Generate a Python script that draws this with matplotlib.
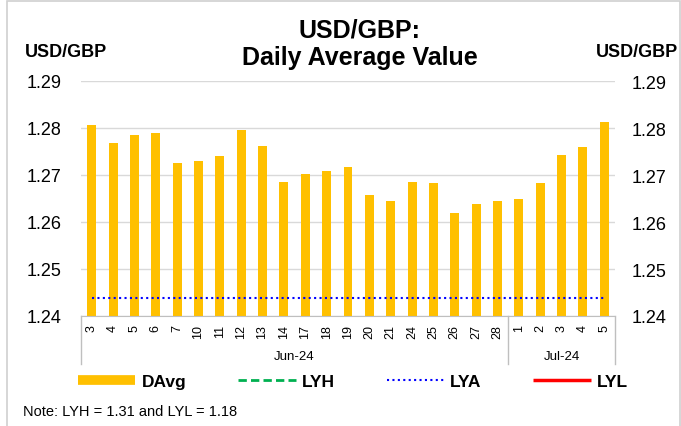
import numpy as np
import matplotlib
matplotlib.use("Agg")
import matplotlib.pyplot as plt
from matplotlib.lines import Line2D
from matplotlib.patches import Rectangle
import matplotlib.transforms as mtransforms

plt.rcParams['font.family'] = ['Liberation Sans', 'DejaVu Sans']

# datos
dias = ["3", "4", "5", "6", "7", "10", "11", "12", "13", "14", "17", "18", "19", "20",
        "21", "24", "25", "26", "27", "28", "1", "2", "3", "4", "5"]
meses = ["Jun-24", "Jul-24"]
n_por_mes = [20, 5]
davg = [1.2806, 1.2768, 1.2786, 1.2790, 1.2725, 1.2730, 1.2740, 1.2796, 1.2762, 1.2685,
        1.2703, 1.2708, 1.2717, 1.2657, 1.2644, 1.2685, 1.2684, 1.2620, 1.2639, 1.2645,
        1.2649, 1.2684, 1.2743, 1.2759, 1.2813]
lyh = 1.31
lya = 1.2438
lyl = 1.18
yticks = [1.24, 1.25, 1.26, 1.27, 1.28, 1.29]

naranja = "#FFC000"
azul = "#0000FF"
verde = "#00B050"
rojo = "#FF0000"

fig = plt.figure(figsize=(6.81, 4.27), dpi=100)
ax = fig.add_axes([81/681, 1 - 317/427, 534/681, 235/427])
x = np.arange(len(dias))

ax.bar(x, davg, width=0.42, color=naranja, zorder=2)
ax.plot(x, [lyh]*len(x), color=verde, ls=(0, (3, 1.5)), lw=2, zorder=3)
ax.plot(x, [lya]*len(x), color=azul, ls=(0, (1, 1.6)), lw=1.5, zorder=3)
ax.plot(x, [lyl]*len(x), color=rojo, lw=2.5, zorder=3)

ax.set_xlim(-0.5, len(dias) - 0.5)
ax.set_ylim(yticks[0], yticks[-1])
ax.set_yticks(yticks)
ax.set_yticklabels([f"{v:.2f}" for v in yticks], fontsize=13)
ax.tick_params(axis='y', length=0, pad=14)
ax.grid(axis='y', color='#d9d9d9', lw=1, zorder=0)
ax.set_axisbelow(True)
for s in ['left', 'right', 'top']:
    ax.spines[s].set_visible(False)
ax.spines['bottom'].set_color('#bfbfbf')

ax.set_xticks(x)
ax.set_xticklabels(dias, rotation=90, fontsize=9, va='top', ha='center')
ax.tick_params(axis='x', length=0, pad=6)

# eje multinivel
trans = mtransforms.blended_transform_factory(ax.transData, ax.transAxes)
bordes = [-0.5]
inicio = -0.5
for mes, n in zip(meses, n_por_mes):
    fin = inicio + n
    ax.text((inicio + fin) / 2, -0.17, mes, transform=trans, ha='center', va='center',
            fontsize=9.5)
    bordes.append(fin)
    inicio = fin
for b in bordes:
    ax.plot([b, b], [0, -0.205], transform=trans, color='#bfbfbf', lw=1, clip_on=False)

ax2 = ax.twinx()
ax2.set_ylim(yticks[0], yticks[-1])
ax2.set_yticks(yticks)
ax2.set_yticklabels([f"{v:.2f}" for v in yticks], fontsize=13)
ax2.tick_params(axis='y', length=0, pad=12)
for s in ax2.spines.values():
    s.set_visible(False)

# titulos
fig.text(360/681, 1 - 65/427, "USD/GBP:\nDaily Average Value", ha='center', va='baseline',
         fontsize=18, fontweight='bold', linespacing=1.2)
fig.text(25/681, 1 - 57/427, "USD/GBP", fontsize=13, fontweight='bold', va='baseline')
fig.text(678/681, 1 - 57/427, "USD/GBP", fontsize=13, fontweight='bold', va='baseline',
         ha='right')

handles = [Line2D([], [], color=naranja, lw=7, solid_capstyle='butt'),
           Line2D([], [], color=verde, ls=(0, (3, 1.5)), lw=2),
           Line2D([], [], color=azul, ls=(0, (1, 1.6)), lw=1.5),
           Line2D([], [], color=rojo, lw=2.5, solid_capstyle='butt')]
fig.legend(handles, ["DAvg", "LYH", "LYA", "LYL"], loc='center', ncol=4,
           bbox_to_anchor=(353/681, 1 - 382/427), frameon=False,
           prop={'weight': 'bold', 'size': 12.5}, handlelength=3.3, handletextpad=0.35,
           columnspacing=3.0)

fig.text(23/681, 1 - 416/427, "Note: LYH = 1.31 and LYL = 1.18", fontsize=10.5,
         va='baseline')

fig.patches.append(Rectangle((7/681, -0.05), 673/681, 1.05 - 2/427, transform=fig.transFigure,
                             fill=False, ec='#d0d0d0', lw=1.2))

fig.savefig("out.png", dpi=100)
